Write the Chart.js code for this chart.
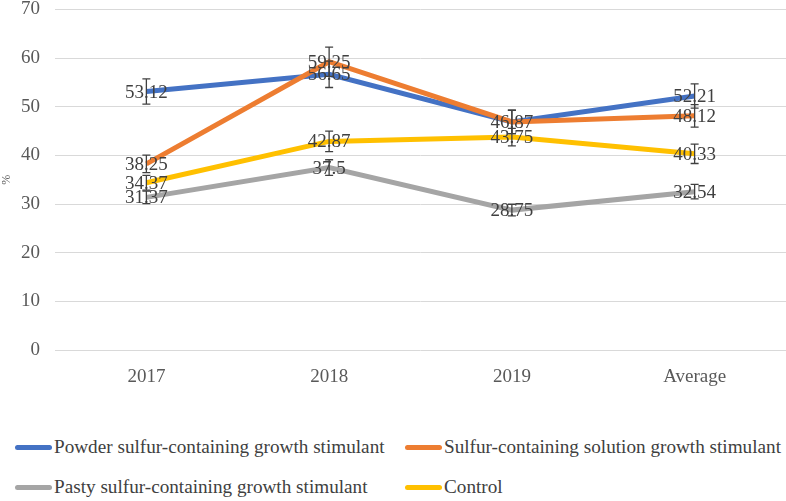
<!DOCTYPE html>
<html>
<head>
<meta charset="utf-8">
<script src="https://cdn.jsdelivr.net/npm/chart.js@4/dist/chart.umd.min.js"></script>
<style>
    html, body { margin: 0; padding: 0; background: #fff; }
    #wrap { position: relative; width: 786px; height: 501px; overflow: hidden; }
    #chartBox { position: absolute; left: 0; top: -17px; width: 786px; height: 417px; }
    #legend { position: absolute; left: 0; top: 436px; width: 786px; font-family: "Liberation Serif", "Times New Roman", "DejaVu Serif", serif; font-size: 19.2px; color: #404040; }
    .item { position: absolute; display: flex; align-items: center; white-space: nowrap; }
    .swatch { display: inline-block; width: 37px; height: 5px; border-radius: 3px; margin-right: 2px; }
</style>
</head>
<body>
<div id="wrap">
    <div id="chartBox"><canvas id="grafico"></canvas></div>
    <div id="legend"></div>
</div>
<script>
// ====== DATOS ======
const categorias = ['2017', '2018', '2019', 'Average'];

const polvo = [53.12, 56.65, 46.87, 52.21];
const solucion = [38.25, 59.25, 46.87, 48.12];
const pasta = [31.37, 37.5, 28.75, 32.54];
const control = [34.37, 42.87, 43.75, 40.33];

// barras de error (±)
const errPolvo = [2.6, 2.7, 2.4, 2.5];
const errSolucion = [1.8, 3.0, 2.4, 2.3];
const errPasta = [1.3, 1.6, 1.2, 1.5];
const errControl = [1.5, 2.1, 1.8, 2.0];

// etiquetas visibles (en 2019 solo se ve una de las dos)
const etiquetasSolucion = ['38.25', '59.25', '', '48.12'];

const fuente = '"Liberation Serif", "Times New Roman", "DejaVu Serif", serif';

// ====== PLUGIN: barras de error + etiquetas ======
const errorYEtiquetas = {
    id: 'errorYEtiquetas',
    afterDatasetsDraw(chart) {
        const ctx = chart.ctx;
        const y = chart.scales.y;
        const x = chart.scales.x;
        ctx.save();
        chart.data.datasets.forEach(ds => {
            ds.data.forEach((v, i) => {
                const px = x.getPixelForValue(i);
                const e = ds.errores[i];
                const top = y.getPixelForValue(v + e);
                const bot = y.getPixelForValue(v - e);
                ctx.strokeStyle = '#404040';
                ctx.lineWidth = 1.3;
                ctx.beginPath();
                ctx.moveTo(px, top); ctx.lineTo(px, bot);
                ctx.moveTo(px - 4, top); ctx.lineTo(px + 4, top);
                ctx.moveTo(px - 4, bot); ctx.lineTo(px + 4, bot);
                ctx.stroke();
            });
        });
        ctx.fillStyle = '#404040';
        ctx.font = '19px ' + fuente;
        ctx.textAlign = 'center';
        ctx.textBaseline = 'middle';
        chart.data.datasets.forEach(ds => {
            ds.data.forEach((v, i) => {
                const txt = ds.etiquetas ? ds.etiquetas[i] : String(v);
                if (!txt) return;
                ctx.fillText(txt, x.getPixelForValue(i), y.getPixelForValue(v) + 1);
            });
        });
        ctx.restore();
    }
};

function serie(label, data, color, errores, etiquetas) {
    return {
        label: label,
        data: data,
        borderColor: color,
        backgroundColor: color,
        borderWidth: 5,
        pointRadius: 0,
        tension: 0,
        errores: errores,
        etiquetas: etiquetas
    };
}

const ctx1 = document.getElementById('grafico');
const grafico = new Chart(ctx1.getContext('2d'), {
    type: 'line',
    data: {
        labels: categorias,
        datasets: [
            serie('Pasty sulfur-containing growth stimulant', pasta, '#A5A5A5', errPasta),
            serie('Control', control, '#FFC000', errControl),
            serie('Sulfur-containing solution growth stimulant', solucion, '#ED7D31', errSolucion, etiquetasSolucion),
            serie('Powder sulfur-containing growth stimulant', polvo, '#4472C4', errPolvo)
        ]
    },
    options: {
        responsive: true,
        maintainAspectRatio: false,
        animation: false,
        layout: { padding: { top: 7, right: 0, left: 0, bottom: 0 } },
        plugins: {
            legend: { display: false },
            tooltip: { enabled: false }
        },
        scales: {
            x: {
                offset: true,
                grid: { display: false },
                border: { display: false },
                ticks: {
                    color: '#595959',
                    font: { family: fuente, size: 19 },
                    padding: 8
                },
                afterFit(s) { s.height = 50; }
            },
            y: {
                min: 0,
                max: 70,
                grid: { color: '#d9d9d9', lineWidth: 1, drawTicks: false },
                border: { display: false },
                ticks: {
                    stepSize: 10,
                    color: '#595959',
                    font: { family: fuente, size: 19 },
                    padding: 15
                },
                title: {
                    display: true,
                    text: '%',
                    color: '#595959',
                    font: { family: fuente, size: 12 },
                    padding: 0
                },
                afterFit(s) { s.width = 55; }
            }
        }
    },
    plugins: [errorYEtiquetas]
});

// ====== LEYENDA (dos columnas, como en el original) ======
const posiciones = {
    'Powder sulfur-containing growth stimulant': [15, 0],
    'Sulfur-containing solution growth stimulant': [405, 0],
    'Pasty sulfur-containing growth stimulant': [15, 40],
    'Control': [405, 40]
};
const leyenda = document.getElementById('legend');
grafico.data.datasets.forEach(ds => {
    const p = posiciones[ds.label];
    const div = document.createElement('div');
    div.className = 'item';
    div.style.left = p[0] + 'px';
    div.style.top = p[1] + 'px';
    div.innerHTML = '<span class="swatch" style="background:' + ds.borderColor + '"></span><span>' + ds.label + '</span>';
    leyenda.appendChild(div);
});
</script>
</body>
</html>
